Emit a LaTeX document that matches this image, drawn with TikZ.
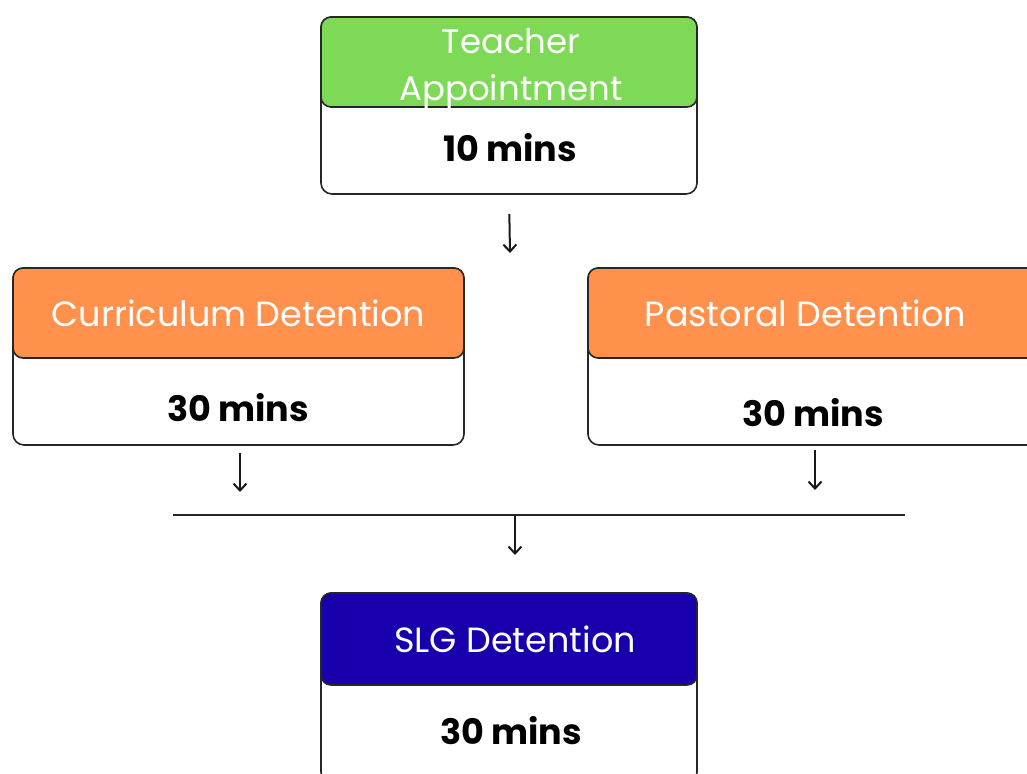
\documentclass[tikz,border=0pt]{standalone}
\usepackage{fontspec}
\setmainfont{Poppins}
\usetikzlibrary{calc,arrows.meta}
\definecolor{hgreen}{RGB}{126,217,87}
\definecolor{horange}{RGB}{255,145,77}
\definecolor{hblue}{RGB}{24,0,173}
\begin{document}
\begin{tikzpicture}[x=1pt,y=1pt,>={Straight Barb[length=7pt,width=13pt,line width=2pt]},
  frame/.style={draw=black!85,line width=1.6pt,rounded corners=11pt,fill=white,inner sep=0pt},
  head/.style={draw=black!85,line width=1.6pt,rounded corners=10pt,fill=#1,text=white,
    inner sep=0pt,align=center,font=\fontsize{35}{47}\selectfont},
  mins/.style={font=\fontsize{35}{40}\selectfont\bfseries,inner sep=0pt},
  link/.style={->,line width=2pt,black!90}]
\clip (0,0) rectangle (1027,773);
% teacher appointment
\node[frame,minimum width=376,minimum height=177] (ta) at (509,667.5) {};
\node[head=hgreen,minimum width=376,minimum height=90,anchor=north] (tah) at (ta.north) {};
\node[white,align=center,font=\fontsize{34}{47}\selectfont,inner sep=0pt] (tat) at (511,704) {Teacher\\Appointment};
\node[mins] (tam) at (510,625) {10 mins};
% curriculum / pastoral
\node[frame,minimum width=451,minimum height=177] (cd) at (238.5,416.5) {};
\node[head=horange,minimum width=451,minimum height=90,anchor=north] (cdh) at (cd.north) {Curriculum Detention};
\node[mins] (cdm) at (238,365) {30 mins};
\node[frame,minimum width=451,minimum height=177] (pd) at (813.5,416.5) {};
\node[head=horange,minimum width=451,minimum height=90,anchor=north] (pdh) at (pd.north) {\hspace*{-16pt}Pastoral Detention};
\node[mins] (pdm) at (813,360) {30 mins};
% slg
\node[frame,minimum width=376,minimum height=190] (slg) at (509,85) {};
\node[head=hblue,minimum width=376,minimum height=92,anchor=north] (slgh) at (slg.north) {\hspace*{12pt}SLG Detention};
\node[mins] (slgm) at (511,42) {30 mins};
% connectors
\coordinate (a1) at (510,520);
\coordinate (a2) at (240,281);
\coordinate (a3) at (815,283);
\coordinate (bl) at (173,258);
\coordinate (br) at (905,258);
\coordinate (bar) at (515,258);
\coordinate (a4) at (515,218);
\draw[link,shorten <=19pt] (ta.south) -- (a1);
\draw[link,shorten <=7pt] (cd.south -| a2) -- (a2);
\draw[link,shorten <=4pt] (pd.south -| a3) -- (a3);
\draw[line width=2.4pt,black!85] (bl) -- (br);
\draw[link] (bar) -- (a4);
\end{tikzpicture}
\end{document}
